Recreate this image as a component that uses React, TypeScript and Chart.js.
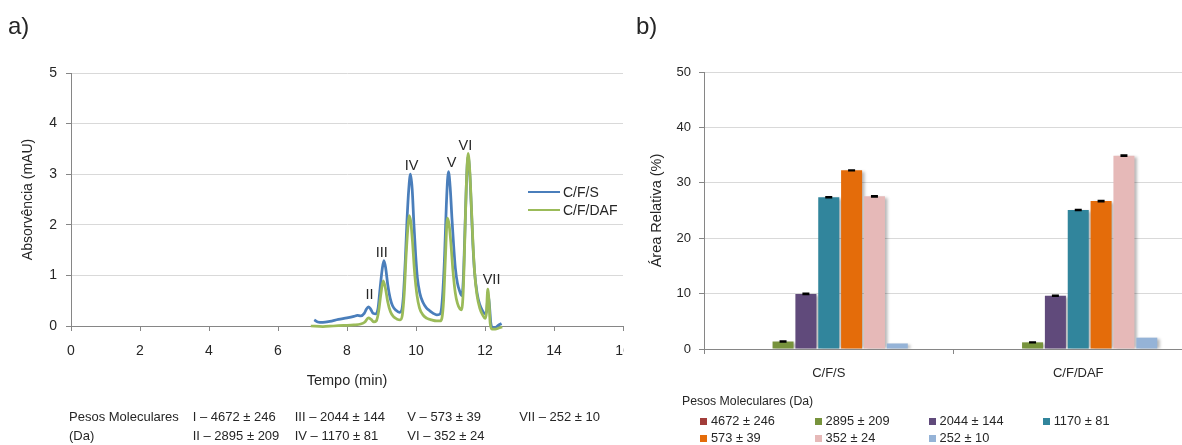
import { useEffect, useRef } from "react";
import { Chart, registerables } from "chart.js";

Chart.register(...registerables);

const FONT = "'Liberation Sans', Arial, Helvetica, sans-serif";
const TEXT = "#262626";
const GRID = "#d9d9d9";
const AXIS = "#868686";

// ---- a) cromatograma ----
const timeCFS = [
  7.05, 7.15, 7.3, 7.5, 7.75, 8.0, 8.2, 8.3, 8.4, 8.5, 8.56, 8.62, 8.68, 8.76, 8.84, 8.9, 8.96, 9.02, 9.07,
  9.12, 9.18, 9.25, 9.32, 9.42, 9.52, 9.58, 9.63, 9.69, 9.74, 9.79, 9.84, 9.89, 9.94, 9.99, 10.04, 10.11,
  10.2, 10.3, 10.4, 10.5, 10.6, 10.68, 10.73, 10.78, 10.83, 10.88, 10.94, 10.99, 11.04, 11.09, 11.14, 11.2,
  11.27, 11.33, 11.37, 11.41, 11.46, 11.51, 11.56, 11.6, 11.65, 11.7, 11.77, 11.85, 11.93, 12.0, 12.05,
  12.09, 12.13, 12.17, 12.22, 12.3, 12.4, 12.48,
];
const absCFS = [
  0.12, 0.08, 0.07, 0.09, 0.13, 0.16, 0.19, 0.21, 0.2, 0.25, 0.33, 0.38, 0.34, 0.25, 0.24, 0.35, 0.75, 1.12,
  1.29, 1.15, 0.82, 0.55, 0.4, 0.31, 0.27, 0.3, 0.55, 1.3, 2.1, 2.7, 3.0, 2.7, 2.0, 1.4, 0.95, 0.65, 0.47,
  0.36, 0.3, 0.25, 0.22, 0.23, 0.3, 0.7, 1.4, 2.4, 3.05, 2.75, 2.15, 1.6, 1.15, 0.85, 0.68, 0.6, 0.9, 1.7,
  2.8, 3.35, 3.0, 2.4, 1.6, 1.05, 0.65, 0.42, 0.3, 0.24, 0.3, 0.62, 0.4, 0.05, -0.03, -0.03, 0.02, 0.05,
];
const timeDAF = [
  6.95, 7.3, 7.6, 7.9, 8.2, 8.4, 8.52, 8.62, 8.7, 8.78, 8.85, 8.92, 8.98, 9.05, 9.11, 9.18, 9.26, 9.34, 9.44,
  9.54, 9.6, 9.66, 9.71, 9.76, 9.8, 9.85, 9.9, 9.96, 10.03, 10.1, 10.2, 10.32, 10.45, 10.6, 10.7, 10.75,
  10.8, 10.85, 10.91, 10.96, 11.01, 11.07, 11.14, 11.2, 11.27, 11.32, 11.37, 11.41, 11.46, 11.51, 11.56,
  11.6, 11.65, 11.7, 11.77, 11.85, 11.93, 12.0, 12.04, 12.08, 12.12, 12.15, 12.2, 12.3, 12.4, 12.5,
];
const absDAF = [
  0.0, -0.01, 0.0, 0.01, 0.02, 0.04, 0.08, 0.16, 0.13, 0.08, 0.1, 0.3, 0.62, 0.89, 0.76, 0.48, 0.28, 0.19,
  0.14, 0.12, 0.2, 0.65, 1.35, 1.9, 2.18, 2.05, 1.65, 1.05, 0.6, 0.36, 0.22, 0.15, 0.12, 0.1, 0.1, 0.15, 0.5,
  1.3, 2.13, 2.0, 1.65, 1.1, 0.65, 0.45, 0.34, 0.32, 0.7, 1.6, 2.8, 3.41, 3.05, 2.45, 1.65, 1.05, 0.6, 0.35,
  0.22, 0.15, 0.25, 0.73, 0.45, 0.05, -0.06, -0.06, -0.04, -0.02,
];
const lineNames = ["C/F/S", "C/F/DAF"];
const lineColors = ["#4a7ebb", "#9bbb59"];

const peakNames = ["II", "III", "IV", "V", "VI", "VII"];
const peakTimes = [8.65, 9.01, 9.87, 11.03, 11.43, 12.19];
const peakHeights = [0.61, 1.45, 3.17, 3.22, 3.56, 0.9];

const massNames = ["I", "II", "III", "IV", "V", "VI", "VII"];
const massValues = ["4672 ± 246", "2895 ± 209", "2044 ± 144", "1170 ± 81", "573 ± 39", "352 ± 24", "252 ± 10"];

// ---- b) área relativa ----
const samples = ["C/F/S", "C/F/DAF"];
const fractionColors = ["#a23d3a", "#77933c", "#604a7b", "#31859c", "#e46c0a", "#e6b9b8", "#95b3d7"];
const areaCFS = [0, 1.35, 9.95, 27.4, 32.25, 27.55, 1.0];
const areaDAF = [0, 1.2, 9.6, 25.1, 26.7, 34.9, 2.05];
const errCFS = [0, 0.08, 0.1, 0.1, 0.08, 0.1, 0];
const errDAF = [0, 0.08, 0.1, 0.1, 0.1, 0.1, 0];

const peakLabelPlugin = {
  id: "peakLabels",
  afterDatasetsDraw(chart: any) {
    const { ctx, scales } = chart;
    ctx.save();
    ctx.font = `14.5px ${FONT}`;
    ctx.fillStyle = TEXT;
    ctx.textAlign = "center";
    ctx.textBaseline = "middle";
    peakNames.forEach((name, i) => {
      ctx.fillText(name, scales.x.getPixelForValue(peakTimes[i]), scales.y.getPixelForValue(peakHeights[i]));
    });
    ctx.restore();
  },
};

const barShadowPlugin = {
  id: "barShadow",
  beforeDatasetsDraw(chart: any) {
    const { ctx, chartArea } = chart;
    ctx.save();
    ctx.beginPath();
    ctx.rect(chartArea.left, chartArea.top, chartArea.right - chartArea.left, chartArea.bottom - chartArea.top);
    ctx.clip();
    ctx.filter = "blur(1.5px)";
    ctx.fillStyle = "rgba(0,0,0,0.28)";
    chart.data.datasets.forEach((_: any, di: number) => {
      chart.getDatasetMeta(di).data.forEach((bar: any) => {
        const { x, y, base, width } = bar.getProps(["x", "y", "base", "width"], true);
        if (base - y < 1) return;
        ctx.fillRect(x - width / 2 + 2.5, y + 1.5, width, base - y - 1.5);
      });
    });
    ctx.restore();
  },
};

const errorBarPlugin = {
  id: "errorBars",
  afterDatasetsDraw(chart: any) {
    const { ctx, scales } = chart;
    ctx.save();
    ctx.strokeStyle = "#000";
    ctx.lineWidth = 1.5;
    chart.data.datasets.forEach((_: any, di: number) => {
      chart.getDatasetMeta(di).data.forEach((bar: any, ci: number) => {
        const v = ci === 0 ? areaCFS[di] : areaDAF[di];
        const e = ci === 0 ? errCFS[di] : errDAF[di];
        if (!e) return;
        const top = scales.y.getPixelForValue(v + e);
        const bot = scales.y.getPixelForValue(v - e);
        ctx.beginPath();
        ctx.moveTo(bar.x, top);
        ctx.lineTo(bar.x, bot);
        ctx.moveTo(bar.x - 3.5, top);
        ctx.lineTo(bar.x + 3.5, top);
        ctx.moveTo(bar.x - 3.5, bot);
        ctx.lineTo(bar.x + 3.5, bot);
        ctx.stroke();
      });
    });
    ctx.restore();
  },
};

const ChromatogramChart = () => {
  const canvasRef = useRef<HTMLCanvasElement>(null);
  useEffect(() => {
    if (!canvasRef.current) return;
    const series = [
      { t: timeCFS, v: absCFS },
      { t: timeDAF, v: absDAF },
    ];
    const chart = new Chart(canvasRef.current, {
      type: "line",
      data: {
        datasets: series.map((s, i) => ({
          label: lineNames[i],
          data: s.t.map((t, k) => ({ x: t, y: s.v[k] })),
          borderColor: lineColors[i],
          backgroundColor: lineColors[i],
          borderWidth: 2.75,
          pointRadius: 0,
          cubicInterpolationMode: "monotone" as const,
          order: i === 0 ? 1 : 0,
          clip: 6,
        })),
      },
      options: {
        animation: false,
        responsive: true,
        maintainAspectRatio: false,
        layout: { padding: { left: 0, top: 73, right: 57, bottom: 55.6 } },
        plugins: { legend: { display: false }, tooltip: { enabled: false } },
        scales: {
          x: {
            type: "linear",
            min: 0,
            max: 16,
            ticks: { stepSize: 2, color: TEXT, font: { family: FONT, size: 14 }, padding: 11.6, maxRotation: 0 },
            grid: { drawOnChartArea: false, tickLength: 5, tickColor: AXIS },
            border: { color: AXIS },
            title: { display: true, text: "Tempo (min)", color: TEXT, font: { family: FONT, size: 14.5 }, padding: 0 },
            afterFit: (s: any) => {
              s.height = 63.4;
            },
          },
          y: {
            min: 0,
            max: 5,
            ticks: { stepSize: 1, color: TEXT, font: { family: FONT, size: 14 }, padding: 9 },
            grid: { color: (c: any) => (c.tick && c.tick.value === 0 ? AXIS : GRID), tickColor: AXIS, tickLength: 5 },
            border: { color: AXIS },
            title: {
              display: true,
              text: "Absorvência (mAU)",
              color: TEXT,
              font: { family: FONT, size: 14 },
              padding: { top: 19.6, bottom: 0 },
            },
            afterFit: (s: any) => {
              s.width = 71;
            },
          },
        },
      },
      plugins: [peakLabelPlugin],
    });
    return () => chart.destroy();
  }, []);
  return (
    <div style={{ position: "relative", width: 680, height: 445 }}>
      <canvas ref={canvasRef} />
    </div>
  );
};

const AreaChart = () => {
  const canvasRef = useRef<HTMLCanvasElement>(null);
  useEffect(() => {
    if (!canvasRef.current) return;
    const chart = new Chart(canvasRef.current, {
      type: "bar",
      data: {
        labels: samples,
        datasets: massValues.map((name, i) => ({
          label: name,
          data: [areaCFS[i], areaDAF[i]],
          backgroundColor: fractionColors[i],
          borderWidth: 0,
          barPercentage: 0.92,
          categoryPercentage: 0.641,
        })),
      },
      options: {
        animation: false,
        responsive: true,
        maintainAspectRatio: false,
        layout: { padding: { left: 0, top: 72, right: 27, bottom: 56 } },
        plugins: { legend: { display: false }, tooltip: { enabled: false } },
        scales: {
          x: {
            type: "category",
            offset: true,
            grid: { offset: true, drawOnChartArea: false, tickLength: 5, tickColor: AXIS },
            border: { color: AXIS },
            ticks: { color: TEXT, font: { family: FONT, size: 13 }, padding: 12 },
            afterFit: (s: any) => {
              s.height = 40;
            },
          },
          y: {
            min: 0,
            max: 50,
            ticks: { stepSize: 10, color: TEXT, font: { family: FONT, size: 13 }, padding: 8 },
            grid: { color: (c: any) => (c.tick && c.tick.value === 0 ? AXIS : GRID), tickColor: AXIS, tickLength: 5 },
            border: { color: AXIS },
            title: {
              display: true,
              text: "Área Relativa (%)",
              color: TEXT,
              font: { family: FONT, size: 14.5 },
              padding: { top: 18.3, bottom: 0 },
            },
            afterFit: (s: any) => {
              s.width = 74;
            },
          },
        },
      },
      plugins: [barShadowPlugin, errorBarPlugin],
    });
    return () => chart.destroy();
  }, []);
  return (
    <div style={{ position: "relative", width: 600, height: 445 }}>
      <canvas ref={canvasRef} />
    </div>
  );
};

const text = (left: number, top: number, size: number, content: string) => (
  <div
    key={`${left}-${top}-${content}`}
    style={{
      position: "absolute",
      left,
      top,
      fontSize: size,
      fontFamily: FONT,
      lineHeight: 1,
      whiteSpace: "nowrap",
      color: TEXT,
    }}
  >
    {content}
  </div>
);

export default function App() {
  const tableCols = [192.7, 294.7, 407.3, 519.2];
  const legendCols = [700, 814.6, 928.6, 1042.7];
  return (
    <div
      style={{
        position: "absolute",
        left: 0,
        top: 0,
        width: 1182,
        height: 445,
        overflow: "hidden",
        background: "#fff",
        fontFamily: FONT,
      }}
    >
      {/* painel a */}
      <div style={{ position: "absolute", left: 0, top: 0, width: 624, height: 445, overflow: "hidden" }}>
        <ChromatogramChart />
      </div>
      {text(8, 14, 24, "a)")}
      {lineNames.map((name, i) => (
        <div key={name}>
          <div
            style={{
              position: "absolute",
              left: 528,
              top: 192 + i * 18 - 1.25,
              width: 32,
              height: 2.5,
              background: lineColors[i],
            }}
          />
          {text(563, 192 + i * 18 - 6.9, 14, name)}
        </div>
      ))}
      {text(69, 409.6, 13, "Pesos Moleculares")}
      {text(69, 428.6, 13, "(Da)")}
      {massNames.map((n, i) =>
        text(tableCols[Math.floor(i / 2)], i % 2 === 0 ? 409.6 : 428.6, 13, `${n} – ${massValues[i]}`)
      )}

      {/* painel b */}
      <div style={{ position: "absolute", left: 630, top: 0, width: 552, height: 445, overflow: "hidden" }}>
        <AreaChart />
      </div>
      {text(636, 14, 24, "b)")}
      {text(682, 395, 12.3, "Pesos Moleculares (Da)")}
      {massValues.map((v, i) => {
        const col = i % 4;
        const row = Math.floor(i / 4);
        const cy = 421 + row * 17;
        return (
          <div key={v}>
            <div
              style={{
                position: "absolute",
                left: legendCols[col],
                top: cy - 3.5,
                width: 7,
                height: 7,
                background: fractionColors[i],
              }}
            />
            {text(legendCols[col] + 11, cy - 6.3, 12.8, v)}
          </div>
        );
      })}
    </div>
  );
}
